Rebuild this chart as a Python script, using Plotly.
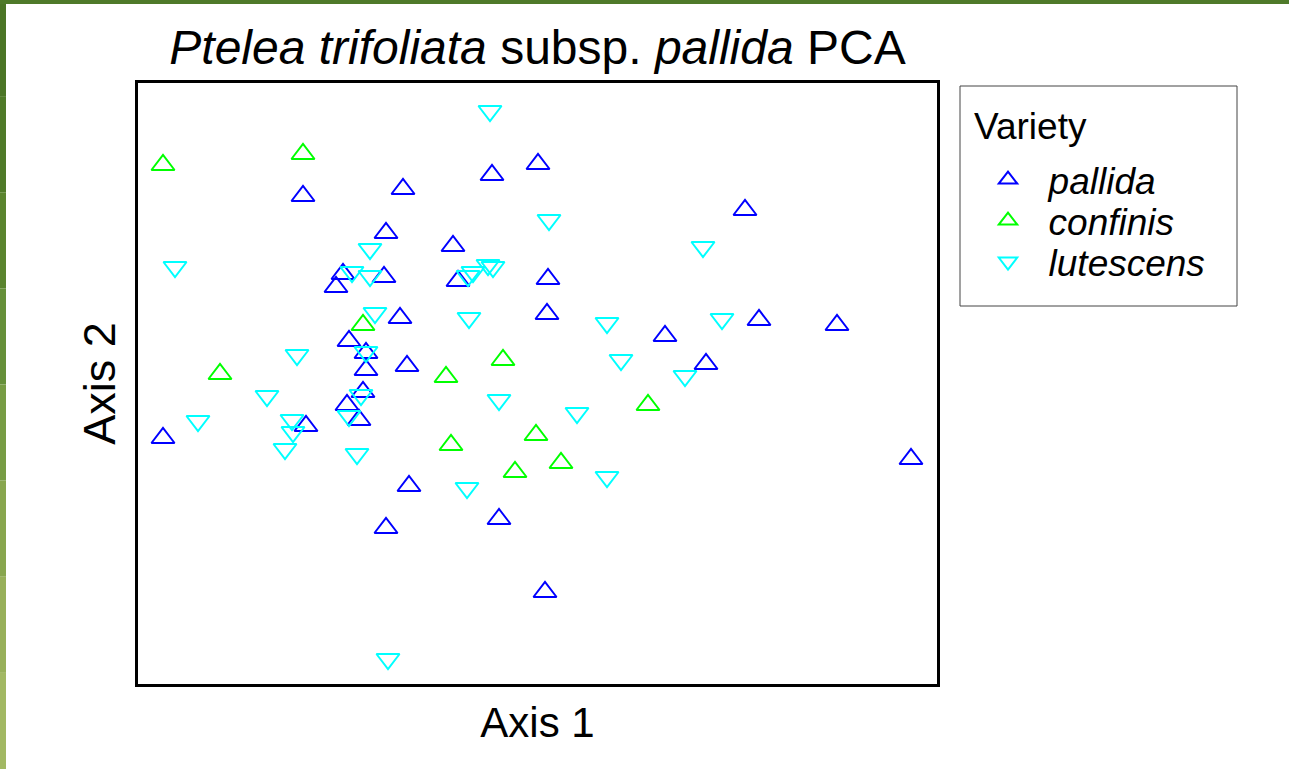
import plotly.graph_objects as go

# PCA scores
pallida_x = [-1.97, -0.97, -0.08, 0.38, -1.14, -0.47, -1.57, -1.64, -1.16, -0.42, 0.48, 0.47,
             -1.00, -1.51, -1.34, -1.34, -0.93, -1.37, -1.53, -1.94, -1.41, -3.37, -0.91, -0.01,
             -1.14, 0.45, 2.45, 1.65, 2.59, 3.37, 2.06, 4.11]
pallida_y = [1.84, 1.91, 2.05, 2.16, 1.47, 1.34, 1.06, 0.93, 1.03, 0.99, 1.01, 0.66,
             0.62, 0.39, 0.27, 0.10, 0.14, -0.12, -0.25, -0.46, -0.40, -0.58, -1.06, -1.39,
             -1.48, -2.12, 1.70, 0.44, 0.60, 0.55, 0.16, -0.79]

confinis_x = [-3.37, -1.97, -1.37, -2.80, -0.54, 0.03, 1.48, 0.36, -0.49, 0.61, 0.15]
confinis_y = [2.15, 2.26, 0.55, 0.06, 0.03, 0.20, -0.25, -0.55, -0.65, -0.83, -0.92]

lutescens_x = [-0.10, 0.49, -3.25, -1.30, -1.48, -1.30, -0.32, -0.27, -0.12, -0.07, -1.25, -0.31,
               -1.34, -2.03, -2.33, -1.39, -0.01, -3.02, -2.08, -2.07, -1.51, -2.15, -1.43, -0.33,
               -1.12, 2.03, 1.07, 2.22, 1.21, 1.85, 0.77, 1.07]
lutescens_y = [2.69, 1.60, 1.13, 1.31, 1.08, 1.04, 1.04, 1.08, 1.15, 1.13, 0.67, 0.62,
               0.28, 0.25, -0.16, -0.15, -0.20, -0.41, -0.40, -0.52, -0.36, -0.69, -0.74, -1.08,
               -2.79, 1.33, 0.57, 0.61, 0.20, 0.04, -0.33, -0.97]

varieties = ["pallida", "confinis", "lutescens"]
symbols = ["triangle-up-open", "triangle-up-open", "triangle-down-open"]
colors = ["#0000FF", "#00FF00", "#00FFFF"]
xs_all = [pallida_x, confinis_x, lutescens_x]
ys_all = [pallida_y, confinis_y, lutescens_y]

FONT = "Liberation Sans, Arial, Helvetica, sans-serif"

L, R, T, B = 138, 352, 83, 85
W, H = 1289, 769
pw, ph = W - L - R, H - T - B


def px_x(p):
    return (p - L) / pw


def px_y(p):
    return (H - B - p) / ph


legend_ids = ["legend", "legend2", "legend3"]
legend_rows = [180, 221, 262]

fig = go.Figure()
for i in range(3):
    fig.add_trace(go.Scatter(
        x=xs_all[i], y=ys_all[i], mode="markers",
        name="&nbsp;&nbsp;<i>" + varieties[i] + "</i>",
        legend=legend_ids[i],
        marker=dict(symbol=symbols[i], size=20, color=colors[i],
                    line=dict(color=colors[i], width=2)),
    ))

shapes = []
# decorative green frame (left strip as a gradient, top strip)
greens = ["#4b7526", "#4f7a28", "#5a842e", "#66903a", "#779c44", "#88a64e", "#98b05a", "#a2b863"]
n = len(greens)
for i, c in enumerate(greens):
    shapes.append(dict(type="rect", xref="paper", yref="paper",
                       x0=px_x(0), x1=px_x(6),
                       y0=px_y(H * i / n), y1=px_y(H * (i + 1) / n),
                       fillcolor=c, line=dict(width=0), layer="below"))
shapes.append(dict(type="rect", xref="paper", yref="paper",
                   x0=px_x(0), x1=px_x(W), y0=px_y(0), y1=px_y(4),
                   fillcolor="#4f7a2a", line=dict(width=0), layer="below"))
# legend frame
shapes.append(dict(type="rect", xref="paper", yref="paper",
                   x0=px_x(960), x1=px_x(1237), y0=px_y(86), y1=px_y(306),
                   fillcolor="rgba(0,0,0,0)", line=dict(color="#444", width=1)))

legend_common = dict(xanchor="left", yanchor="middle", bgcolor="rgba(0,0,0,0)",
                     borderwidth=0, font=dict(size=37, family=FONT, color="black"),
                     itemsizing="trace")

layout_kwargs = {}
for lid, row in zip(legend_ids, legend_rows):
    layout_kwargs[lid] = dict(x=px_x(988), y=px_y(row), **legend_common)

fig.update_layout(
    width=W, height=H,
    margin=dict(l=L, r=R, t=T, b=B),
    paper_bgcolor="white", plot_bgcolor="white",
    font=dict(family=FONT, color="black"),
    title=dict(text="<i>Ptelea trifoliata</i> subsp. <i>pallida</i> PCA",
               x=px_x(537.5), xref="paper", xanchor="center",
               y=1 - 47 / H, yanchor="middle",
               font=dict(size=48, family=FONT, color="black")),
    xaxis=dict(range=[-3.62, 4.37], showgrid=False, zeroline=False, showticklabels=False,
               ticks="", showline=True, mirror=True, linecolor="black", linewidth=3,
               title=dict(text="Axis 1", font=dict(size=42), standoff=22)),
    yaxis=dict(range=[-3.04, 2.97], showgrid=False, zeroline=False, showticklabels=False,
               ticks="", showline=True, mirror=True, linecolor="black", linewidth=3,
               title=dict(text="Axis 2", font=dict(size=45), standoff=6)),
    annotations=[dict(text="Variety", xref="paper", yref="paper",
                      x=px_x(972), y=px_y(126), xanchor="left", yanchor="middle",
                      showarrow=False, font=dict(size=37, family=FONT, color="black"))],
    shapes=shapes,
    showlegend=True,
    **layout_kwargs,
)

fig.write_html("out.html", config={"displayModeBar": False},
               post_script="document.body.style.margin='0';document.body.style.padding='0';")
